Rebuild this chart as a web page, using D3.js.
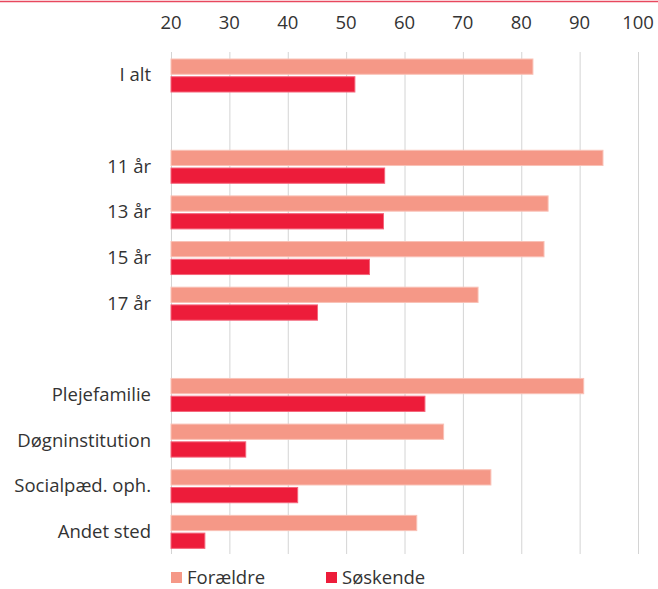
<!DOCTYPE html>
<html>
<head>
<meta charset="utf-8">
<script src="https://cdn.jsdelivr.net/npm/d3@7"></script>
<style>
  body { margin: 0; background: #fff; }
  svg text { font-family: "Open Sans", Lato, sans-serif; fill: #333; }
</style>
</head>
<body>
<div class="chart"></div>
<script>
var categories = ['I alt', '', '11 år', '13 år', '15 år', '17 år', ' ', 'Plejefamilie', 'Døgninstitution', 'Socialpæd. oph.', 'Andet sted'],
    series = ['Forældre', 'Søskende'],
    foraeldre = [82, null, 94, 84.6, 83.9, 72.6, null, 90.7, 66.7, 74.8, 62.1],
    soeskende = [51.5, null, 56.6, 56.4, 54, 45.1, null, 63.5, 32.8, 41.7, 25.8],
    ticks = [20, 30, 40, 50, 60, 70, 80, 90, 100],
    colors = ['#f59887', '#ed1c3a'],
    strokes = ['#f9c1b6', '#f4667b'];

var W = 658, H = 589;

var svg = d3.select('.chart').append('svg')
    .attr('width', W)
    .attr('height', H);

// red rule at the very top
svg.append('line')
    .attr('x1', 0).attr('x2', W)
    .attr('y1', 1.5).attr('y2', 1.5)
    .attr('stroke', '#e8485e')
    .attr('stroke-width', 1.5);

var x = d3.scaleLinear().domain([20, 100]).range([171, 638]);
var y = d3.scaleBand().domain(categories).range([52, 554]);
var ySub = d3.scaleBand().domain(series).range([7, 40]).paddingInner(0.14);

// gridlines
svg.append('g').selectAll('line')
    .data(ticks)
    .enter().append('line')
    .attr('x1', function(d) { return x(d) + 0.5; })
    .attr('x2', function(d) { return x(d) + 0.5; })
    .attr('y1', 52).attr('y2', 554)
    .attr('stroke', '#d4d4d4')
    .attr('stroke-width', 1);

// top axis labels
svg.append('g').selectAll('text')
    .data(ticks)
    .enter().append('text')
    .attr('x', function(d) { return x(d); })
    .attr('y', 29)
    .attr('text-anchor', 'middle')
    .attr('font-size', 18.5)
    .text(function(d) { return d; });

// bars
var rows = categories.map(function(c, i) {
    return {cat: c, vals: [foraeldre[i], soeskende[i]]};
});

var groups = svg.append('g').selectAll('g')
    .data(rows.filter(function(r) { return r.vals[0] != null; }))
    .enter().append('g')
    .attr('transform', function(d) { return 'translate(0,' + y(d.cat) + ')'; });

groups.selectAll('rect')
    .data(function(d) { return d.vals; })
    .enter().append('rect')
    .attr('x', x(20))
    .attr('y', function(d, i) { return ySub(series[i]); })
    .attr('width', function(d) { return x(d) - x(20); })
    .attr('height', ySub.bandwidth())
    .attr('fill', function(d, i) { return colors[i]; })
    .attr('stroke', function(d, i) { return strokes[i]; })
    .attr('stroke-width', 1);

// category labels
groups.append('text')
    .attr('x', 151)
    .attr('y', 23)
    .attr('dy', '0.35em')
    .attr('text-anchor', 'end')
    .attr('font-size', 18.5)
    .text(function(d) { return d.cat; });

// legend
var legend = svg.append('g').selectAll('g')
    .data(series)
    .enter().append('g')
    .attr('transform', function(d, i) { return 'translate(' + [171, 326][i] + ',572)'; });

legend.append('rect')
    .attr('width', 11).attr('height', 11)
    .attr('fill', function(d, i) { return colors[i]; });

legend.append('text')
    .attr('x', 16)
    .attr('y', 11.5)
    .attr('font-size', 18.5)
    .text(function(d) { return d; });
</script>
</body>
</html>
